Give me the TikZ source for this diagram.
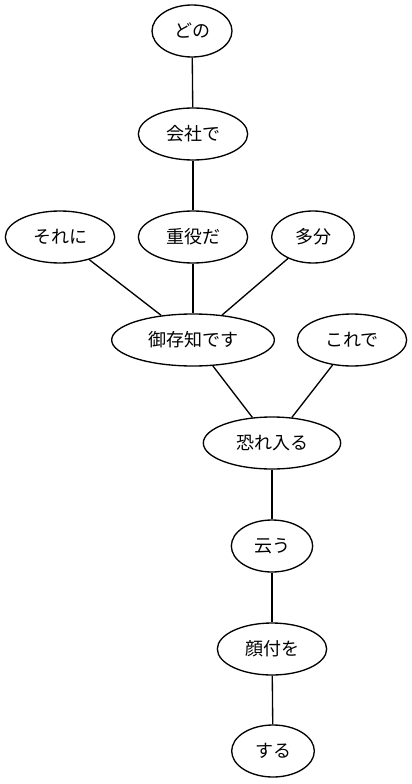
\documentclass[tikz,border=0pt]{standalone}
\usepackage{fontspec}
\setmainfont{Noto Sans CJK JP}
\usetikzlibrary{shapes}

\begin{document}
\begin{tikzpicture}
	[
	x=0.75pt, y=-0.75pt,
	word/.style={ellipse, draw, line width=1pt, minimum height=39pt, inner sep=0pt,
		font=\fontsize{13.5}{16}\selectfont},
	link/.style={line width=1pt}]
	\useasboundingbox (0,0) rectangle (411,784);
	\node (dono)     [word, minimum width=60pt]  at (192,31)  {どの};
	\node (kaisha)   [word, minimum width=82pt]  at (193,134) {会社で};
	\node (soreni)   [word, minimum width=82pt]  at (60,237)  {それに};
	\node (juyaku)   [word, minimum width=82pt]  at (193,237) {重役だ};
	\node (tabun)    [word, minimum width=62pt]  at (313,237) {多分};
	\node (gozonji)  [word, minimum width=122pt] at (193,340) {御存知です};
	\node (korede)   [word, minimum width=82pt]  at (352,340) {これで};
	\node (osoreiru) [word, minimum width=103pt] at (272,443) {恐れ入る};
	\node (iu)       [word, minimum width=61pt]  at (272,546) {云う};
	\node (kaotsuki) [word, minimum width=82pt]  at (272,649) {顔付を};
	\node (suru)     [word, minimum width=62pt]  at (273,751) {する};
	\draw[link] (dono) -- (kaisha);
	\draw[link] (kaisha) -- (juyaku);
	\draw[link] (soreni) -- (gozonji);
	\draw[link] (juyaku) -- (gozonji);
	\draw[link] (tabun) -- (gozonji);
	\draw[link] (gozonji) -- (osoreiru);
	\draw[link] (korede) -- (osoreiru);
	\draw[link] (osoreiru) -- (iu);
	\draw[link] (iu) -- (kaotsuki);
	\draw[link] (kaotsuki) -- (suru);
\end{tikzpicture}
\end{document}
